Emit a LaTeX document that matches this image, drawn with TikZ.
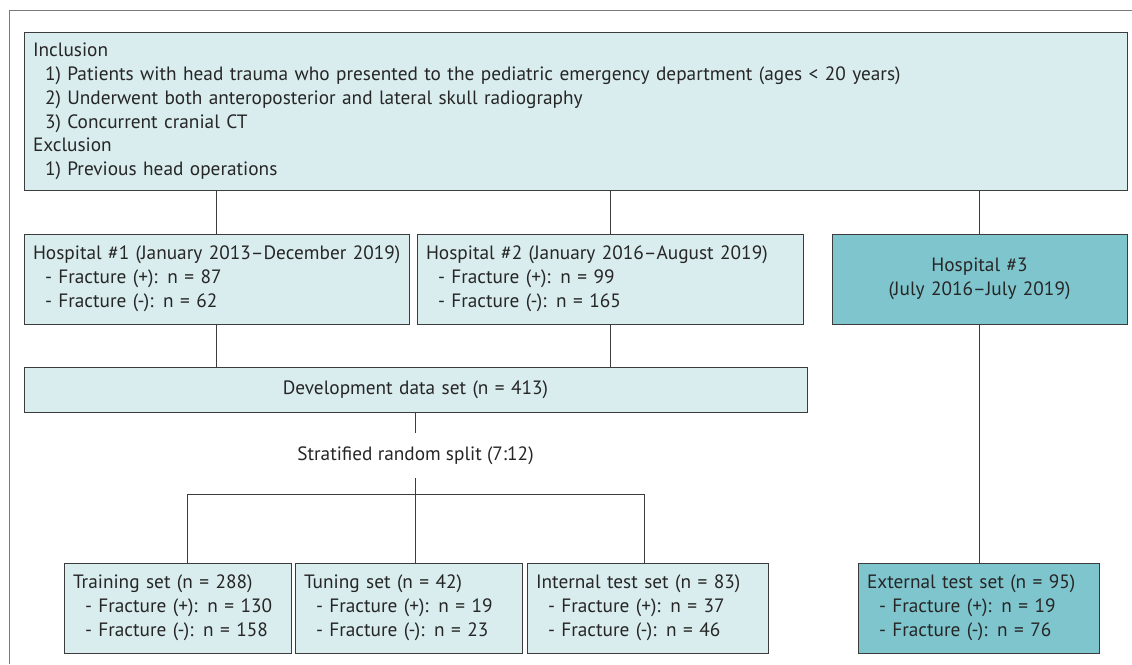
\documentclass[tikz,border=0pt]{standalone}
\usepackage{fontspec}
\setmainfont{PT Sans}
\begin{document}
\begin{tikzpicture}[x=1pt,y=-1pt,
  every node/.style={font=\fontsize{19.3}{23.8}\selectfont, text=txt},
  lbox/.style={draw=bord, fill=lightfill, line width=0.9pt, rectangle, inner xsep=9pt, inner ysep=0pt, align=left},
  dbox/.style={draw=bord, fill=darkfill, line width=0.9pt, rectangle, inner xsep=9pt, inner ysep=0pt, align=left},
  conn/.style={draw=bord, line width=0.9pt}]
\definecolor{lightfill}{HTML}{D9ECEE}
\definecolor{darkfill}{HTML}{7FC5CD}
\definecolor{bord}{HTML}{3C3C3C}
\definecolor{txt}{HTML}{262626}
\definecolor{frame}{HTML}{7A7A7A}
\useasboundingbox (0,0) rectangle (1132,664);
\draw[frame, line width=1pt] (9,664) -- (9,10.5) -- (1132,10.5);
\newcommand{\ind}{\hspace*{12pt}}
% top box
\node[lbox, minimum width=1103pt, minimum height=158pt, text width=1085pt] (top) at (575.5,111.5)
 {Inclusion\\
  \ind 1) Patients with head trauma who presented to the pediatric emergency department (ages < 20 years)\\
  \ind 2) Underwent both anteroposterior and lateral skull radiography\\
  \ind 3) Concurrent cranial CT\\
  Exclusion\\
  \ind 1) Previous head operations};
% hospitals
\node[lbox, minimum width=385pt, minimum height=90pt, text width=367pt] (h1) at (216.5,279)
 {\mbox{Hospital \#1 (January 2013--December 2019)}\\
  \ind - Fracture (+): n = 87\\
  \ind - Fracture (-): n = 62};
\node[lbox, minimum width=386pt, minimum height=90pt, text width=368pt] (h2) at (610,279)
 {Hospital \#2 (January 2016--August 2019)\\
  \ind - Fracture (+): n = 99\\
  \ind - Fracture (-): n = 165};
\node[dbox, minimum width=295pt, minimum height=90pt, text width=277pt, align=center] (h3) at (979.5,279)
 {Hospital \#3\\(July 2016--July 2019)};
% development
\node[lbox, minimum width=783pt, minimum height=45pt, text width=765pt, align=center] (dev) at (415.5,389.5)
 {Development data set (n = 413)};
\node[minimum height=45pt, inner sep=0pt] (split) at (415.5,455.5) {Stratified random split (7:12)};
\coordinate (jc) at (415.5,494);
\coordinate (jl) at (187,494);
\coordinate (jr) at (644,494);
% bottom boxes
\node[lbox, minimum width=227pt, minimum height=90pt, text width=209pt] (train) at (177.5,608)
 {Training set (n = 288)\\
  \ind - Fracture (+): n = 130\\
  \ind - Fracture (-): n = 158};
\node[lbox, minimum width=227pt, minimum height=90pt, text width=209pt] (tune) at (408.5,608)
 {Tuning set (n = 42)\\
  \ind - Fracture (+): n = 19\\
  \ind - Fracture (-): n = 23};
\node[lbox, minimum width=241pt, minimum height=90pt, text width=223pt] (int) at (647.5,608)
 {Internal test set (n = 83)\\
  \ind - Fracture (+): n = 37\\
  \ind - Fracture (-): n = 46};
\node[dbox, minimum width=241pt, minimum height=90pt, text width=223pt] (ext) at (978.5,608)
 {External test set (n = 95)\\
  \ind - Fracture (+): n = 19\\
  \ind - Fracture (-): n = 76};
% connectors
\draw[conn] (h1.north) -- (h1.north |- top.south);
\draw[conn] (h2.north) -- (h2.north |- top.south);
\draw[conn] (h3.north) -- (h3.north |- top.south);
\draw[conn] (h1.south) -- (h1.south |- dev.north);
\draw[conn] (h2.south) -- (h2.south |- dev.north);
\draw[conn] (h3.south) -- (h3.south |- ext.north);
\draw[conn] (dev.south) -- (split.north);
\draw[conn] (split.south) -- (jc);
\draw[conn] (jl |- train.north) -- (jl) -- (jr) -- (jr |- int.north);
\draw[conn] (jc) -- (jc |- tune.north);
\end{tikzpicture}
\end{document}
